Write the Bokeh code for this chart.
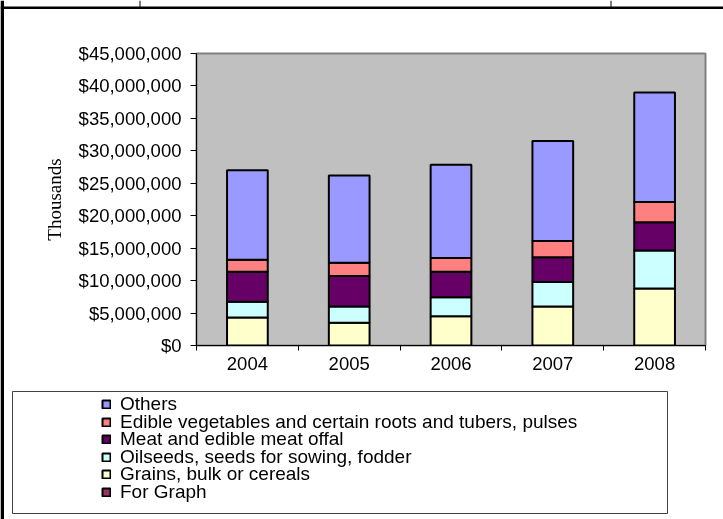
from bokeh.plotting import figure
from bokeh.layouts import column
from bokeh.models import (Range1d, FixedTicker, NumeralTickFormatter, ColumnDataSource,
                          Legend, LegendItem)
from bokeh.embed import file_html
from bokeh.resources import INLINE

# ---- data (thousands of dollars) ----
years = [2004, 2005, 2006, 2007, 2008]
for_graph = [0, 0, 0, 0, 0]
grains = [4_300_000, 3_500_000, 4_500_000, 6_000_000, 8_800_000]
oilseeds = [2_450_000, 2_500_000, 2_950_000, 3_800_000, 5_850_000]
meat = [4_600_000, 4_700_000, 3_900_000, 3_800_000, 4_350_000]
edible = [1_850_000, 2_050_000, 2_150_000, 2_500_000, 3_100_000]
others = [13_800_000, 13_450_000, 14_350_000, 15_400_000, 16_900_000]
y_ticks = [0, 5_000_000, 10_000_000, 15_000_000, 20_000_000, 25_000_000,
           30_000_000, 35_000_000, 40_000_000, 45_000_000]

keys = ["for_graph", "grains", "oilseeds", "meat", "edible", "others"]
names = ["For Graph", "Grains, bulk or cereals", "Oilseeds, seeds for sowing, fodder",
         "Meat and edible meat offal",
         "Edible vegetables and certain roots and tubers, pulses", "Others"]
colors = ["#993366", "#FFFFCC", "#CCFFFF", "#660066", "#FF8080", "#9999FF"]

source = ColumnDataSource(dict(year=years, for_graph=for_graph, grains=grains,
                               oilseeds=oilseeds, meat=meat, edible=edible, others=others))

W, H = 723, 519

# ---------- background sheet (borders + legend) ----------
bg = figure(width=W, height=H, output_backend="svg", toolbar_location=None,
            x_range=Range1d(0, W), y_range=Range1d(H, 0),
            x_axis_location=None, y_axis_location=None,
            min_border=0, min_border_left=0, min_border_right=0,
            min_border_top=0, min_border_bottom=0)
bg.frame_align = False
bg.styles = {"position": "fixed", "left": "0px", "top": "0px", "z-index": "0"}
bg.background_fill_color = "white"
bg.border_fill_color = "white"
bg.outline_line_color = None
bg.xgrid.visible = False
bg.ygrid.visible = False

# glyph holders for the legend swatches (zero-size, hidden under the sheet border)
legend_rs = [bg.vbar(x=[0], top=[0], bottom=[0], width=0, fill_color=c,
                     line_color="black", line_width=2) for c in colors]

# sheet border lines
bg.quad(left=[0, 0, 139, 610], right=[3.5, W, 140, 611], top=[0, 6, 0, 0],
        bottom=[H, 8.5, 7, 7], fill_color="black", line_color=None)
# legend frame
bg.quad(left=[12], right=[667], top=[391], bottom=[513], fill_color=None,
        line_color="#404040", line_width=1)

# legend entries, top to bottom (Excel lists series in reverse order)
row_h = 24
for i, (n, r) in enumerate(list(zip(names, legend_rs))[::-1]):
    cy = 404 + 17.5 * i
    lg = Legend(items=[LegendItem(label=n, renderers=[r])],
                location=(101, H - cy - row_h / 2), orientation="vertical",
                glyph_width=10, glyph_height=10, label_height=row_h, spacing=0,
                padding=0, margin=0, label_standoff=9,
                label_text_font="Liberation Sans", label_text_font_size="19px",
                label_text_color="black",
                border_line_alpha=0, background_fill_alpha=0)
    bg.add_layout(lg, "center")

# ---------- chart ----------
p = figure(width=W, height=H, output_backend="svg", toolbar_location=None,
           x_range=Range1d(years[0] - 0.5, years[-1] + 0.5),
           y_range=Range1d(y_ticks[0], y_ticks[-1]),
           min_border_left=196, min_border_right=18, min_border_top=53,
           min_border_bottom=174)
p.frame_align = False
p.styles = {"position": "fixed", "left": "0px", "top": "0px", "z-index": "1"}
p.background_fill_color = "#C0C0C0"
p.border_fill_alpha = 0
p.outline_line_color = "#808080"
p.outline_line_width = 2
p.xgrid.visible = False
p.ygrid.visible = False

p.vbar_stack(keys, x="year", width=0.4, color=colors, line_color="black",
             line_width=2, source=source)

# y axis
p.yaxis.ticker = FixedTicker(ticks=y_ticks)
p.yaxis.formatter = NumeralTickFormatter(format="$0,0")
p.yaxis.major_label_text_font = "Liberation Sans"
p.yaxis.major_label_text_font_size = "18.5px"
p.yaxis.major_label_text_color = "black"
p.yaxis.major_tick_out = 6
p.yaxis.major_tick_in = 0
p.yaxis.minor_tick_line_color = None
p.yaxis.major_label_standoff = 9
p.yaxis.axis_line_color = "black"
p.yaxis.axis_label = "Thousands"
p.yaxis.axis_label_text_font = "Liberation Serif"
p.yaxis.axis_label_text_font_style = "normal"
p.yaxis.axis_label_text_font_size = "19px"
p.yaxis.axis_label_text_color = "black"
p.yaxis.axis_label_standoff = 11

# x axis: labels at centres, ticks at category boundaries
p.xaxis.ticker = FixedTicker(ticks=years,
                             minor_ticks=[y - 0.5 for y in years] + [years[-1] + 0.5])
p.xaxis.major_tick_out = 0
p.xaxis.major_tick_in = 0
p.xaxis.minor_tick_out = 5
p.xaxis.minor_tick_in = 0
p.xaxis.minor_tick_line_color = "black"
p.xaxis.major_label_text_font = "Liberation Sans"
p.xaxis.major_label_text_font_size = "18.5px"
p.xaxis.major_label_text_color = "black"
p.xaxis.major_label_standoff = 6
p.xaxis.axis_line_color = "black"

root = column(bg, p)
root.styles = {"position": "fixed", "left": "0px", "top": "0px"}

open("out.html", "w").write(file_html(root, INLINE))
